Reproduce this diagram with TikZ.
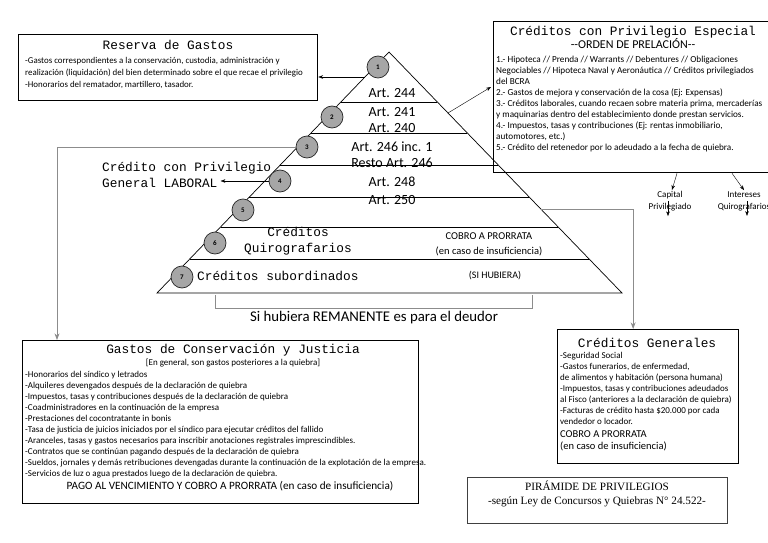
\documentclass[tikz,border=0pt]{standalone}
\usepackage{fontspec}
\setmainfont{Carlito}
\newfontfamily\mono{Liberation Mono}
\newfontfamily\serifa{Liberation Serif}
\usetikzlibrary{
    positioning,
    calc,
    arrows.meta
}
\tikzset{
    >=Stealth,
    caja/.style={
        draw,
        line width=1.3pt,
        inner sep=0pt
    },
    nivel/.style={
        circle,
        draw=black!85,
        fill=black!35,
        line width=0.7pt,
        minimum size=22pt,
        inner sep=0pt,
        font=\bfseries\fontsize{7}{7}\selectfont
    },
    titulo/.style={inner sep=0pt, font=\mono\fontsize{12.8}{16}\selectfont},
    texto/.style={inner sep=0pt, align=left},
    art/.style={inner sep=0pt, font=\fontsize{14}{14}\selectfont},
    linea/.style={line width=0.7pt},
    gris/.style={draw=black!45, line width=0.8pt}
}

\begin{document}
\begin{tikzpicture}[
    x=1pt,
    y=-1pt,
    >=Stealth
]
    \useasboundingbox (0,0) rectangle (768,543);

    % Piramide
    \coordinate (cima) at (389,52);
    \coordinate (bizq) at (157,293);
    \coordinate (bder) at (622,293);
    \draw[linea] (bizq) -- (cima) -- (bder) -- cycle;
    \foreach \y in {102,133,165,197,227,259}
        \draw[linea] ($(cima)!{(\y-52)/241}!(bizq)$) -- ($(cima)!{(\y-52)/241}!(bder)$);

    % Niveles
    \node[nivel] (n1) at (378,67)  {1};
    \node[nivel] (n2) at (332,117) {2};
    \node[nivel] (n3) at (307,147) {3};
    \node[nivel] (n4) at (280,181) {4};
    \node[nivel] (n5) at (243,210) {5};
    \node[nivel] (n6) at (215,243) {6};
    \node[nivel] (n7) at (182,277) {7};

    % Articulos
    \node[art] (a244) at (392,93)  {Art. 244};
    \node[art] (a241) at (392,112) {Art. 241};
    \node[art] (a240) at (392,128) {Art. 240};
    \node[art] (a246) at (392,147) {Art. 246 inc. 1};
    \node[art] (r246) at (392,163) {Resto Art. 246};
    \node[art] (a248) at (392,182) {Art. 248};
    \node[art] (a250) at (392,200) {Art. 250};

    \node[titulo, align=center] (quiro) at (298,241) {Créditos\\Quirografarios};
    \node[texto, align=center, font=\fontsize{10.5}{15}\selectfont]
        (prorrata) at (489,244) {COBRO A PRORRATA\\(en caso de insuficiencia)};
    \node[titulo, anchor=west] (subord) at (197,276) {Créditos subordinados};
    \node[texto, font=\fontsize{10}{10}\selectfont] (hubiera) at (495,276) {(SI HUBIERA)};

    % Remanente
    \draw[gris] (215,295) |- (532,308) -- (532,295);
    \node[inner sep=0pt, font=\fontsize{14.8}{16}\selectfont] (reman) at (374,318)
        {Si hubiera REMANENTE es para el deudor};

    % Reserva de Gastos
    \node[caja, anchor=north west, minimum width=299pt, minimum height=66pt] (reserva) at (18,34) {};
    \node[titulo] (rtit) at (168,45) {Reserva de Gastos};
    \node[texto, anchor=north west, font=\fontsize{8.9}{12}\selectfont] (rtxt) at (25,57)
        {-Gastos correspondientes a la conservación, custodia, administración y\\
         realización (liquidación) del bien determinado sobre el que recae el privilegio\\
         -Honorarios del rematador, martillero, tasador.};
    \coordinate (e1) at ($(cima)!{25/241}!(bizq)$);
    \draw[->] (e1) -- (e1 -| reserva.east);

    % Creditos con Privilegio Especial
    \node[caja, anchor=north west, minimum width=280pt, minimum height=151pt] (especial) at (493,21) {};
    \node[titulo] (etit) at (633,32) {Créditos con Privilegio Especial};
    \node[inner sep=0pt, font=\fontsize{12}{13}\selectfont] (orden) at (633,44) {-{}-ORDEN DE PRELACIÓN-{}-};
    \node[texto, anchor=north west, font=\fontsize{9.2}{11}\selectfont] (etxt) at (496,55.5)
        {1.- Hipoteca // Prenda // Warrants // Debentures // Obligaciones\\
         Negociables // Hipoteca Naval y Aeronáutica // Créditos privilegiados\\
         del BCRA\\
         2.- Gastos de mejora y conservación de la cosa (Ej: Expensas)\\
         3.- Créditos laborales, cuando recaen sobre materia prima, mercaderías\\
         y maquinarias dentro del establecimiento donde prestan servicios.\\
         4.- Impuestos, tasas y contribuciones (Ej: rentas inmobiliario,\\
         automotores, etc.)\\
         5.- Crédito del retenedor por lo adeudado a la fecha de quiebra.};
    \coordinate (e2) at ($(cima)!{61/241}!(bder)$);
    \coordinate (e2f) at (491,87);
    \draw[->] (e2) -- (e2f);

    % Capital e intereses
    \node[texto, align=center, font=\fontsize{9}{12}\selectfont] (capital) at (670,201) {Capital\\Privilegiado};
    \node[texto, align=center, font=\fontsize{9}{12}\selectfont] (interes) at (744,201) {Intereses\\Quirografarios};
    \draw[->] ([xshift=7pt]capital.north |- especial.south) -- ([xshift=2pt,yshift=1pt]capital.north);
    \draw[->] ([xshift=-12pt]interes.north |- especial.south) -- ([yshift=1pt]interes.north);
    \draw[->] ([xshift=-2pt]capital.center) -- ([xshift=-2pt,yshift=-5pt]capital.south);
    \draw[->] ([xshift=3pt]interes.center) -- ([xshift=3pt,yshift=-5pt]interes.south);

    % Credito con Privilegio General LABORAL
    \node[titulo, anchor=west] (lab1) at (102,168) {Crédito con Privilegio};
    \node[titulo, anchor=west] (lab2) at (102,183) {General LABORAL};
    \draw[->] (n4.west) -- ([xshift=3pt]n4.west -| lab2.east);

    % Gastos de Conservacion y Justicia
    \node[caja, anchor=north west, minimum width=396pt, minimum height=163pt] (gastos) at (22,340) {};
    \node[titulo] (gtit) at (233,350) {Gastos de Conservación y Justicia};
    \node[inner sep=0pt, font=\fontsize{9}{10}\selectfont] (gsub) at (233,363)
        {[En general, son gastos posteriores a la quiebra]};
    \node[texto, anchor=north west, font=\fontsize{9}{10.9}\selectfont] (gtxt) at (25,371.5)
        {-Honorarios del síndico y letrados\\
         -Alquileres devengados después de la declaración de quiebra\\
         -Impuestos, tasas y contribuciones después de la declaración de quiebra\\
         -Coadministradores en la continuación de la empresa\\
         -Prestaciones del cocontratante in bonis\\
         -Tasa de justicia de juicios iniciados por el síndico para ejecutar créditos del fallido\\
         -Aranceles, tasas y gastos necesarios para inscribir anotaciones registrales imprescindibles.\\
         -Contratos que se continúan pagando después de la declaración de quiebra\\
         -Sueldos, jornales y demás retribuciones devengadas durante la continuación de la explotación de la empresa.\\
         -Servicios de luz o agua prestados luego de la declaración de quiebra.};
    \node[inner sep=0pt, font=\fontsize{11.2}{12}\selectfont] (pago) at (230,486)
        {PAGO AL VENCIMIENTO Y COBRO A PRORRATA (en caso de insuficiencia)};
    \draw[gris, ->] (n3.west) -| ([xshift=35pt]gastos.north west);

    % Creditos Generales
    \node[caja, anchor=north west, minimum width=181pt, minimum height=134pt] (generales) at (557,329) {};
    \node[titulo] (gentit) at (647,343) {Créditos Generales};
    \node[texto, anchor=north west, font=\fontsize{9}{11}\selectfont] (gentxt) at (560,352.5)
        {-Seguridad Social\\
         -Gastos funerarios, de enfermedad,\\
         de alimentos y habitación (persona humana)\\
         -Impuestos, tasas y contribuciones adeudados\\
         al Fisco (anteriores a la declaración de quiebra)\\
         -Facturas de crédito hasta \$20.000 por cada\\
         vendedor o locador.};
    \node[texto, anchor=north west, font=\fontsize{10.5}{12}\selectfont] (gencob) at (560,430)
        {COBRO A PRORRATA\\(en caso de insuficiencia)};
    \coordinate (e5) at ($(cima)!{157/241}!(bder)$);
    \draw[gris, ->] (e5) -| ([xshift=-15pt]generales.north);

    % Titulo
    \node[draw=black!75, line width=0.8pt, anchor=north west, minimum width=260pt, minimum height=46pt] (marco) at (467,477) {};
    \node[inner sep=0pt, align=center, font=\serifa\fontsize{11.2}{14}\selectfont] (piramide) at (597,494)
        {PIRÁMIDE DE PRIVILEGIOS\\-según Ley de Concursos y Quiebras N° 24.522-};

\end{tikzpicture}
\end{document}
